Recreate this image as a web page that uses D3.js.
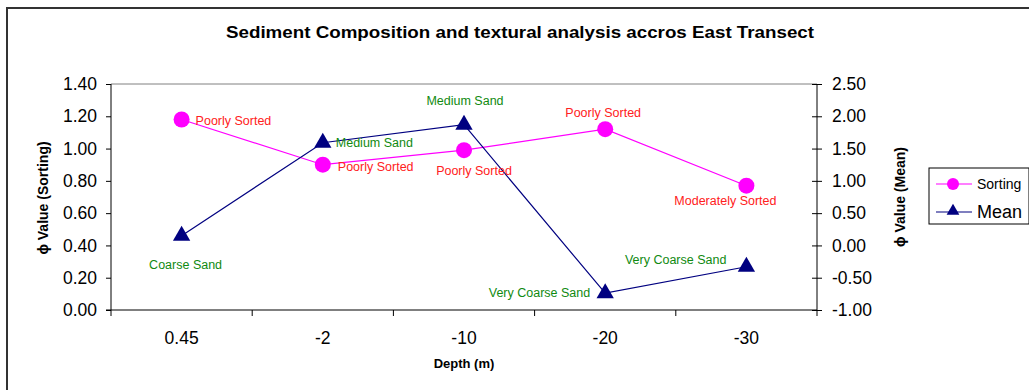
<!DOCTYPE html>
<html lang="en">
  <head>
    <meta charset="UTF-8" />
    <title>Sediment Composition and textural analysis accros East Transect</title>
    <style>
      body {
        margin: 0;
        background-color: #ffffff;
      }
      svg text {
        font-family: "Liberation Sans", Arial, sans-serif;
      }
    </style>
  </head>
  <body>
    <div id="chart"></div>

    <script src="https://cdn.jsdelivr.net/npm/d3@7"></script>
    <script>
      // chart data
      const depths = ["0.45", "-2", "-10", "-20", "-30"];
      const sorting = [1.18, 0.9, 0.99, 1.12, 0.77];
      const mean = [0.15, 1.59, 1.87, -0.74, -0.33];
      const sortingLabels = ["Poorly Sorted", "Poorly Sorted", "Poorly Sorted", "Poorly Sorted", "Moderately Sorted"];
      const meanLabels = ["Coarse Sand", "Medium Sand", "Medium Sand", "Very Coarse Sand", "Very Coarse Sand"];
      const leftTicks = [0, 0.2, 0.4, 0.6, 0.8, 1.0, 1.2, 1.4];
      const rightTicks = [-1, -0.5, 0, 0.5, 1, 1.5, 2, 2.5];

      // label placement next to each point: [dx, dy, anchor]
      const sortingLabelPos = [
        [14, 5, "start"],
        [15, 6, "start"],
        [10, 25, "middle"],
        [-2, -12, "middle"],
        [-21, 19, "middle"],
      ];
      const meanLabelPos = [
        [4, 33, "middle"],
        [13, 4, "start"],
        [1, -20, "middle"],
        [-15, 4, "end"],
        [-20, -3, "end"],
      ];

      const width = 1029;
      const height = 390;
      const plot = { left: 111, right: 817, top: 84, bottom: 310 };

      // excel style numbers, plain hyphen for negatives
      const fmt = (d) => d3.format(".2f")(d).replace("\u2212", "-");

      const svg = d3
        .select("#chart")
        .append("svg")
        .attr("width", width)
        .attr("height", height);

      // outer chart border
      svg
        .append("rect")
        .attr("x", 7)
        .attr("y", 8)
        .attr("width", 1040)
        .attr("height", 400)
        .attr("fill", "none")
        .attr("stroke", "#333")
        .attr("stroke-width", 2);

      const x = d3
        .scaleBand()
        .domain(depths)
        .range([plot.left, plot.right]);

      const yLeft = d3.scaleLinear().domain([0, 1.4]).range([plot.bottom, plot.top]);
      const yRight = d3.scaleLinear().domain([-1, 2.5]).range([plot.bottom, plot.top]);

      // plot area border (top), gray
      svg
        .append("line")
        .attr("x1", plot.left)
        .attr("x2", plot.right)
        .attr("y1", plot.top)
        .attr("y2", plot.top)
        .attr("stroke", "#808080");

      // left axis
      const leftAxis = svg
        .append("g")
        .attr("transform", "translate(" + plot.left + ",0)")
        .call(d3.axisLeft(yLeft).tickValues(leftTicks).tickFormat(fmt).tickSize(5).tickSizeOuter(0));
      leftAxis.select(".domain").attr("d", "M0," + (plot.bottom + 6) + "V" + plot.top);

      // right axis (cross ticks)
      const rightAxis = svg
        .append("g")
        .attr("transform", "translate(" + plot.right + ",0)")
        .call(d3.axisRight(yRight).tickValues(rightTicks).tickFormat(fmt).tickSize(5).tickSizeOuter(0));
      rightAxis.selectAll(".tick line").attr("x1", -5);
      rightAxis.select(".domain").attr("d", "M0," + (plot.bottom + 6) + "V" + plot.top);

      // bottom axis, ticks between categories
      const bottomAxis = svg
        .append("g")
        .attr("transform", "translate(0," + plot.bottom + ")")
        .call(d3.axisBottom(x).tickSize(0).tickPadding(22));
      bottomAxis.select(".domain").attr("d", "M" + (plot.left - 5) + ",0H" + plot.right);
      bottomAxis
        .selectAll(".sep")
        .data(depths.slice(1))
        .enter()
        .append("line")
        .attr("x1", (d) => x(d))
        .attr("x2", (d) => x(d))
        .attr("y1", 0)
        .attr("y2", 6)
        .attr("stroke", "#000");

      svg.selectAll(".domain, .tick line").attr("stroke", "#000");
      svg
        .selectAll(".tick text")
        .attr("font-family", "Liberation Sans, Arial, sans-serif")
        .attr("font-size", 17.5)
        .attr("fill", "#000");
      leftAxis.selectAll(".tick text").attr("x", -14);
      rightAxis.selectAll(".tick text").attr("x", 15);

      // axis titles
      svg
        .append("text")
        .attr("transform", "translate(48,198) rotate(-90)")
        .attr("text-anchor", "middle")
        .attr("font-size", 14)
        .attr("font-weight", "bold")
        .text("\u03d5 Value (Sorting)");

      svg
        .append("text")
        .attr("transform", "translate(905,197) rotate(-90)")
        .attr("text-anchor", "middle")
        .attr("font-size", 14)
        .attr("font-weight", "bold")
        .text("\u03d5 Value (Mean)");

      svg
        .append("text")
        .attr("x", 464)
        .attr("y", 368)
        .attr("text-anchor", "middle")
        .attr("font-size", 13)
        .attr("font-weight", "bold")
        .text("Depth (m)");

      // title
      svg
        .append("text")
        .attr("x", 520)
        .attr("y", 38)
        .attr("text-anchor", "middle")
        .attr("font-size", 17)
        .attr("font-weight", "bold")
        .attr("textLength", 588)
        .attr("lengthAdjust", "spacingAndGlyphs")
        .text("Sediment Composition and textural analysis accros East Transect");

      const cx = (i) => x(depths[i]) + x.bandwidth() / 2;

      // Sorting series
      const sortLine = d3
        .line()
        .x((d, i) => cx(i))
        .y((d) => yLeft(d));
      svg
        .append("path")
        .datum(sorting)
        .attr("d", sortLine)
        .attr("fill", "none")
        .attr("stroke", "#ff00ff")
        .attr("stroke-width", 1.2);

      // Mean series
      const meanLine = d3
        .line()
        .x((d, i) => cx(i))
        .y((d) => yRight(d));
      svg
        .append("path")
        .datum(mean)
        .attr("d", meanLine)
        .attr("fill", "none")
        .attr("stroke", "#000080")
        .attr("stroke-width", 1.2);

      svg
        .selectAll(".sort-dot")
        .data(sorting)
        .enter()
        .append("circle")
        .attr("cx", (d, i) => cx(i))
        .attr("cy", (d) => yLeft(d))
        .attr("r", 8)
        .attr("fill", "#ff00ff");

      const tri = d3.symbol().type(d3.symbolTriangle).size(130);
      svg
        .selectAll(".mean-dot")
        .data(mean)
        .enter()
        .append("path")
        .attr("d", tri)
        .attr("transform", (d, i) => "translate(" + cx(i) + "," + yRight(d) + ")")
        .attr("fill", "#000080");

      // data labels
      svg
        .selectAll(".sort-label")
        .data(sorting)
        .enter()
        .append("text")
        .attr("x", (d, i) => cx(i) + sortingLabelPos[i][0])
        .attr("y", (d, i) => yLeft(d) + sortingLabelPos[i][1])
        .attr("text-anchor", (d, i) => sortingLabelPos[i][2])
        .attr("font-size", 12.5)
        .attr("fill", "#ff2020")
        .text((d, i) => sortingLabels[i]);

      svg
        .selectAll(".mean-label")
        .data(mean)
        .enter()
        .append("text")
        .attr("x", (d, i) => cx(i) + meanLabelPos[i][0])
        .attr("y", (d, i) => yRight(d) + meanLabelPos[i][1])
        .attr("text-anchor", (d, i) => meanLabelPos[i][2])
        .attr("font-size", 12.5)
        .attr("fill", "#108a10")
        .text((d, i) => meanLabels[i]);

      // legend
      const legend = svg.append("g").attr("transform", "translate(929,168)");
      legend
        .append("rect")
        .attr("width", 100)
        .attr("height", 56)
        .attr("fill", "#fff")
        .attr("stroke", "#000");

      legend
        .append("line")
        .attr("x1", 7)
        .attr("x2", 43)
        .attr("y1", 16)
        .attr("y2", 16)
        .attr("stroke", "#ff00ff")
        .attr("stroke-width", 1.2);
      legend.append("circle").attr("cx", 24).attr("cy", 16).attr("r", 6).attr("fill", "#ff00ff");
      legend
        .append("text")
        .attr("x", 48)
        .attr("y", 21)
        .attr("font-size", 14)
        .text("Sorting");

      legend
        .append("line")
        .attr("x1", 7)
        .attr("x2", 43)
        .attr("y1", 44)
        .attr("y2", 44)
        .attr("stroke", "#000080")
        .attr("stroke-width", 1.2);
      legend
        .append("path")
        .attr("d", d3.symbol().type(d3.symbolTriangle).size(70))
        .attr("transform", "translate(24,43)")
        .attr("fill", "#000080");
      legend
        .append("text")
        .attr("x", 48)
        .attr("y", 50)
        .attr("font-size", 18)
        .text("Mean");
    </script>
  </body>
</html>
